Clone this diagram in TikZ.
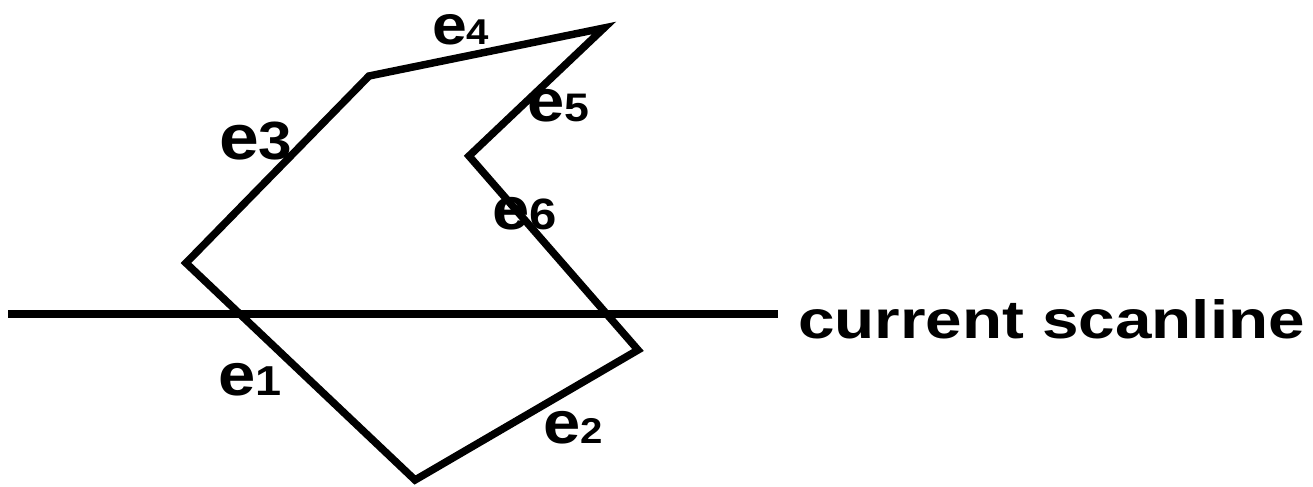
\documentclass[tikz,border=0pt]{standalone}
\usepackage{fontspec}
\usepackage{graphicx}
\setmainfont{Liberation Sans}
\newcommand\lbl[3]{\scalebox{1.12}[1]{\bfseries\fontsize{#1}{#1}\selectfont e\fontsize{#2}{#2}\selectfont #3}}
\begin{document}
\begin{tikzpicture}[x=1bp,y=-1bp,
  edge/.style={line width=7.5bp,line join=miter,line cap=butt},
  lab/.style={anchor=base west,inner sep=0pt,outer sep=0pt}]
\useasboundingbox (0,0) rectangle (1313,487);
\coordinate (A) at (186,263);
\coordinate (B) at (415,480);
\coordinate (C) at (638,350);
\coordinate (D) at (469,156);
\coordinate (E) at (604,28);
\coordinate (F) at (369,76);
\draw[edge] (A) -- (B) -- (C) -- (D) -- (E) -- (F) -- cycle;
\coordinate (S1) at (8,314);
\coordinate (S2) at (778,314);
\node[lab] (scan) at (798,338) {\scalebox{1.22}[1]{\bfseries\fontsize{54}{54}\selectfont current scanline}};
\draw[line width=7.5bp] (S1) -- (S2);
\node[lab] (e1) at (218,395) {\lbl{60}{42}{1}};
\node[lab] (e2) at (543,443) {\lbl{60}{36}{2}};
\node[lab] (e3) at (219,160) {\lbl{64}{54}{3}};
\node[lab] (e4) at (432,45) {\lbl{56}{36}{4}};
\node[lab] (e5) at (527,122) {\lbl{60}{40}{5}};
\node[lab] (e6) at (492,230) {\lbl{60}{44}{6}};
\end{tikzpicture}
\end{document}
